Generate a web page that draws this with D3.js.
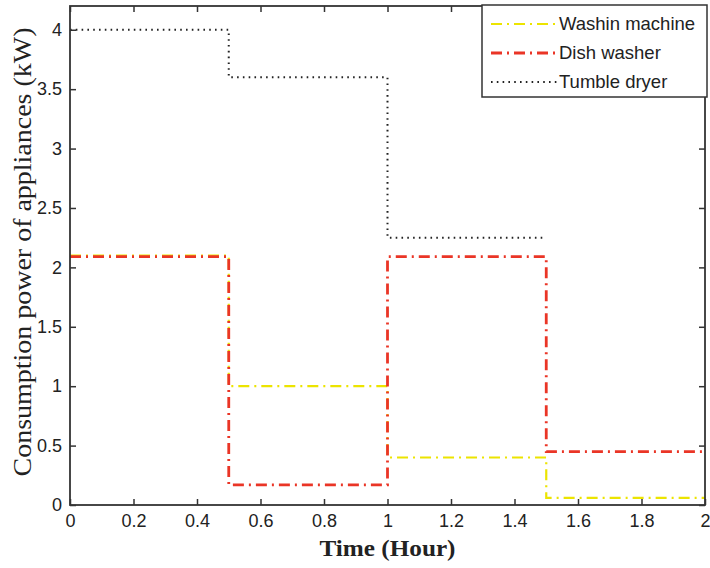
<!DOCTYPE html>
<html>
<head>
<meta charset="utf-8">
<script src="https://cdn.jsdelivr.net/npm/d3@7"></script>
<style>
  body { margin: 0; background: #fff; }
  svg { display: block; }
</style>
</head>
<body>
<div id="chart"></div>
<script>
// Time slots (hour) and the power in each slot (kW).
var slotStarts = [0, 0.5, 1, 1.5];
var endTime = 2;
var washerPower = [2.1, 1.0, 0.4, 0.06];
var dishPower = [2.09, 0.17, 2.09, 0.45];
var dryerPower = [4.0, 3.6, 2.25];
var xTicks = [0, 0.2, 0.4, 0.6, 0.8, 1, 1.2, 1.4, 1.6, 1.8, 2];
var yTicks = [0, 0.5, 1, 1.5, 2, 2.5, 3, 3.5, 4];
var seriesNames = ["Washin machine", "Dish washer", "Tumble dryer"];

var width = 710, height = 568;
var margin = { left: 70, right: 5, top: 6, bottom: 63 };

var svg = d3.select('#chart').append('svg')
    .attr('width', width)
    .attr('height', height);

var x = d3.scaleLinear().domain([0, 2]).range([margin.left, width - margin.right]);
var y = d3.scaleLinear().domain([0, 4.2]).range([height - margin.bottom, margin.top]);

// Build step points: one per slot, plus a closing point at the end of the last slot.
function steps(values, end) {
    var pts = values.map((v, i) => [slotStarts[i], v]);
    pts.push([end, values[values.length - 1]]);
    return pts;
}

var line = d3.line()
    .x(d => x(d[0]))
    .y(d => y(d[1]))
    .curve(d3.curveStepAfter);

var series = [
    { name: seriesNames[0], pts: steps(washerPower, endTime), color: '#ece400', width: 2.2, dash: '11,5,2,5' },
    { name: seriesNames[1], pts: steps(dishPower, endTime), color: '#ea3526', width: 2.8, dash: '11,5,2,5' },
    { name: seriesNames[2], pts: steps(dryerPower, slotStarts[3]), color: '#222', width: 2, dash: '1.6,4.2' }
];

// Ticks pointing inward, on all four sides (MATLAB style box).
var tickLen = 6;
var axisColor = '#333';
var axisFont = '"Liberation Sans", Arial, sans-serif';

var xAxis = svg.append('g')
    .attr('transform', 'translate(0,' + y(0) + ')')
    .call(d3.axisBottom(x).tickValues(xTicks).tickFormat(d3.format('')).tickSizeInner(-tickLen).tickSizeOuter(0).tickPadding(9));
var xAxisTop = svg.append('g')
    .attr('transform', 'translate(0,' + y(4.2) + ')')
    .call(d3.axisTop(x).tickValues(xTicks).tickFormat('').tickSizeInner(-tickLen).tickSizeOuter(0));
var yAxis = svg.append('g')
    .attr('transform', 'translate(' + x(0) + ',0)')
    .call(d3.axisLeft(y).tickValues(yTicks).tickFormat(d3.format('')).tickSizeInner(-tickLen).tickSizeOuter(0).tickPadding(8));
var yAxisRight = svg.append('g')
    .attr('transform', 'translate(' + x(2) + ',0)')
    .call(d3.axisRight(y).tickValues(yTicks).tickFormat('').tickSizeInner(-tickLen).tickSizeOuter(0));

[xAxis, xAxisTop, yAxis, yAxisRight].forEach(function(g) {
    g.selectAll('path.domain').remove();
    g.selectAll('line').attr('stroke', axisColor).attr('stroke-width', 1.5);
    g.selectAll('text')
        .attr('fill', '#222')
        .style('font-family', axisFont)
        .style('font-size', '18px');
});

// Series lines.
var lines = svg.append('g');
series.forEach(function(s) {
    lines.append('path')
        .attr('d', line(s.pts))
        .attr('fill', 'none')
        .attr('stroke', s.color)
        .attr('stroke-width', s.width)
        .attr('stroke-dasharray', s.dash);
});

// Plot frame.
svg.append('rect')
    .attr('x', x(0))
    .attr('y', y(4.2))
    .attr('width', x(2) - x(0))
    .attr('height', y(0) - y(4.2))
    .attr('fill', 'none')
    .attr('stroke', axisColor)
    .attr('stroke-width', 1.8);

// Axis titles.
var titleFont = '"Liberation Serif", "Times New Roman", serif';
svg.append('text')
    .attr('x', (x(0) + x(2)) / 2)
    .attr('y', 556)
    .attr('text-anchor', 'middle')
    .attr('textLength', 136)
    .attr('lengthAdjust', 'spacingAndGlyphs')
    .style('font-family', titleFont)
    .style('font-size', '24px')
    .style('font-weight', 'bold')
    .attr('fill', '#222')
    .text('Time (Hour)');

svg.append('text')
    .attr('transform', 'translate(31,' + 252 + ') rotate(-90)')
    .attr('text-anchor', 'middle')
    .attr('textLength', 449)
    .attr('lengthAdjust', 'spacingAndGlyphs')
    .style('font-family', titleFont)
    .style('font-size', '26px')
    .attr('fill', '#222')
    .text('Consumption power of appliances (kW)');

// Legend.
var legend = svg.append('g').attr('transform', 'translate(482,5)');
legend.append('rect')
    .attr('width', 225)
    .attr('height', 92)
    .attr('fill', '#fff')
    .attr('stroke', axisColor)
    .attr('stroke-width', 1.5);

series.forEach(function(s, i) {
    var ly = 19 + i * 29;
    legend.append('line')
        .attr('x1', 9).attr('x2', 75)
        .attr('y1', ly).attr('y2', ly)
        .attr('stroke', s.color)
        .attr('stroke-width', s.width)
        .attr('stroke-dasharray', s.dash);
    legend.append('text')
        .attr('x', 77)
        .attr('y', ly + 6)
        .style('font-family', axisFont)
        .style('font-size', '18.5px')
        .attr('fill', '#222')
        .text(s.name);
});
</script>
</body>
</html>
